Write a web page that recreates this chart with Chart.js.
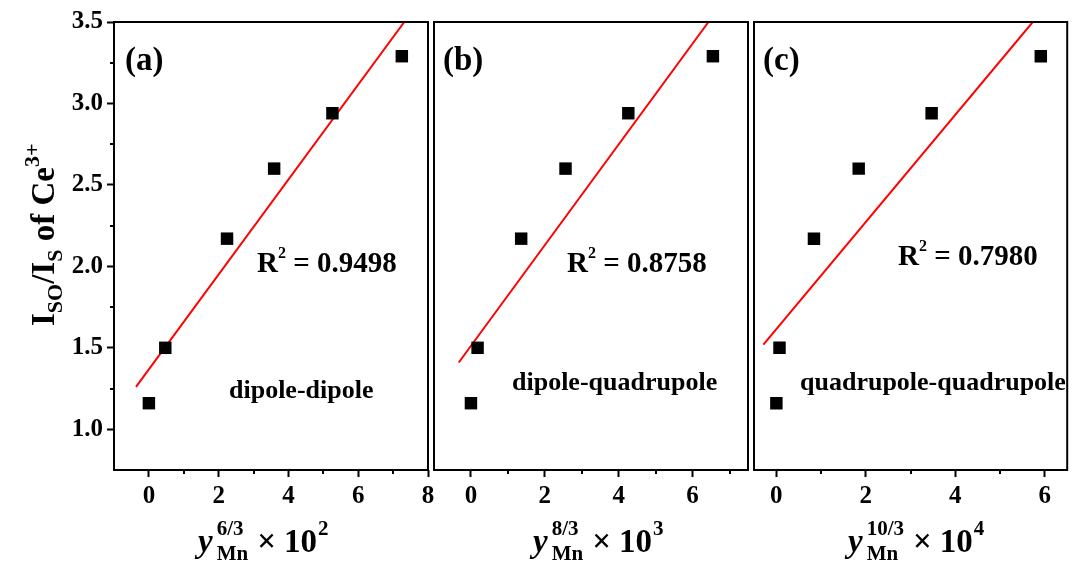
<!DOCTYPE html>
<html><head><meta charset="utf-8">
<script src="https://cdn.jsdelivr.net/npm/chart.js@4"></script>
<style>
html,body{margin:0;padding:0;background:#fff;}
#wrap{position:relative;width:1076px;height:565px;overflow:hidden;background:#fff;}
canvas{position:absolute;top:0;}
</style></head><body>
<div id="wrap">
<canvas id="ca" width="440" height="565" style="left:0px"></canvas>
<canvas id="cb" width="340" height="565" style="left:420px"></canvas>
<canvas id="cc" width="336" height="565" style="left:740px"></canvas>
</div>
<script>
// ---- data ----
const ratioY = [1.16, 1.50, 2.17, 2.60, 2.94, 3.29];          // I_SO/I_S of Ce3+
const xA = [0, 0.47, 2.24, 3.59, 5.26, 7.25];                 // y^(6/3) x 10^2
const xB = [0, 0.18, 1.36, 2.56, 4.26, 6.55];                 // y^(8/3) x 10^3
const xC = [0, 0.07, 0.84, 1.84, 3.47, 5.91];                 // y^(10/3) x 10^4
const fitXA = [-0.37, 7.32], fitYA = [1.26, 3.5];
const fitXB = [-0.33, 6.43], fitYB = [1.41, 3.5];
const fitXC = [-0.29, 5.73], fitYC = [1.52, 3.5];
const r2Labels = ['0.9498', '0.8758', '0.7980'];
const panelLabels = ['(a)', '(b)', '(c)'];
const mechanisms = ['dipole-dipole', 'dipole-quadrupole', 'quadrupole-quadrupole'];
const xPowers = ['6/3', '8/3', '10/3'];
const xExponents = ['2', '3', '4'];
const yTicks = [1.0, 1.5, 2.0, 2.5, 3.0, 3.5];
const yMinor = [1.25, 1.75, 2.25, 2.75, 3.25];
const xTicksA = [0, 2, 4, 6, 8], xMinorA = [1, 3, 5, 7];
const xTicksB = [0, 2, 4, 6],    xMinorB = [1, 3, 5, 7];
const xTicksC = [0, 2, 4, 6],    xMinorC = [1, 3, 5];
const xRangeA = [-1, 8], xRangeB = [-1, 7.5], xRangeC = [-0.5, 6.5];
const yRange = [0.75, 3.5];

// ---- drawing helpers ----
const SERIF = '"Liberation Serif", "Times New Roman", serif';
function fnt(size, italic) { return (italic ? 'italic ' : '') + 'bold ' + size + 'px ' + SERIF; }
function drawRich(ctx, x, y, segs) {
  let cx = x;
  for (const s of segs) {
    if (s.stack) {
      let w = 0;
      for (const p of s.stack) {
        ctx.font = fnt(p.size, p.italic);
        ctx.fillText(p.t, cx, y + (p.dy || 0));
        w = Math.max(w, ctx.measureText(p.t).width);
      }
      cx += w + (s.gap || 0);
    } else {
      ctx.font = fnt(s.size, s.italic);
      ctx.fillText(s.t, cx, y + (s.dy || 0));
      cx += ctx.measureText(s.t).width + (s.gap || 0);
    }
  }
}

const decor = {
  id: 'decor',
  afterDraw(chart, args, o) {
    const ctx = chart.ctx, ca = chart.chartArea;
    const xs = chart.scales.x, ys = chart.scales.y;
    const off = o.offset;
    ctx.save();
    ctx.strokeStyle = '#000';
    ctx.fillStyle = '#000';
    ctx.lineWidth = 2;
    ctx.strokeRect(ca.left, ca.top, ca.right - ca.left, ca.bottom - ca.top);
    // minor ticks
    ctx.beginPath();
    for (const v of o.xMinor) {
      const px = Math.round(xs.getPixelForValue(v));
      ctx.moveTo(px, ca.bottom); ctx.lineTo(px, ca.bottom + 4);
    }
    if (o.showY) {
      for (const v of yMinor) {
        const py = Math.round(ys.getPixelForValue(v));
        ctx.moveTo(ca.left, py); ctx.lineTo(ca.left - 4, py);
      }
    }
    ctx.stroke();
    ctx.textAlign = 'left';
    ctx.textBaseline = 'alphabetic';
    const i = o.idx;
    // panel letter
    ctx.font = fnt(33);
    ctx.fillText(panelLabels[i], o.labelPos[0] - off, o.labelPos[1]);
    // R^2
    drawRich(ctx, o.r2Pos[0] - off, o.r2Pos[1], [
      { t: 'R', size: 29 },
      { t: '2', size: 16, dy: -14 },
      { t: ' = ' + r2Labels[i], size: 29 }
    ]);
    // mechanism
    ctx.font = fnt(26);
    ctx.fillText(mechanisms[i], o.mechPos[0] - off, o.mechPos[1]);
    // x title
    drawRich(ctx, o.xTitleX - off, 552, [
      { t: 'y', size: 33, italic: true, gap: 4 },
      { stack: [{ t: 'Mn', size: 21, dy: 8 }, { t: xPowers[i], size: 21, dy: -17 }], gap: 9 },
      { t: '\u00d7', size: 33, gap: 8 },
      { t: '10', size: 33, gap: 1 },
      { t: xExponents[i], size: 21, dy: -17 }
    ]);
    // y title (panel a only)
    if (o.showY) {
      ctx.save();
      ctx.translate(54, 326);
      ctx.rotate(-Math.PI / 2);
      drawRich(ctx, 0, 0, [
        { t: 'I', size: 33 },
        { t: 'SO', size: 22, dy: 8 },
        { t: '/', size: 33 },
        { t: 'I', size: 33 },
        { t: 'S', size: 22, dy: 8 },
        { t: ' of ', size: 33 },
        { t: 'Ce', size: 33 },
        { t: '3+', size: 22, dy: -15 }
      ]);
      ctx.restore();
    }
    ctx.restore();
  }
};

function makePanel(id, o) {
  const tickFont = { family: SERIF, size: 25, weight: 'bold' };
  new Chart(document.getElementById(id), {
    type: 'scatter',
    data: {
      datasets: [
        {
          data: o.xs.map((x, k) => ({ x: x, y: ratioY[k] })),
          pointStyle: 'rect', pointRadius: 8.8, pointHoverRadius: 8.8,
          backgroundColor: '#000', borderColor: '#000', borderWidth: 0,
          showLine: false
        },
        {
          data: o.fitX.map((x, k) => ({ x: x, y: o.fitY[k] })),
          showLine: true, borderColor: '#ff0000', borderWidth: 2,
          pointRadius: 0, pointHoverRadius: 0, fill: false
        }
      ]
    },
    options: {
      responsive: false, animation: false, devicePixelRatio: 1, events: [],
      layout: { padding: o.padding },
      plugins: {
        legend: { display: false }, tooltip: { enabled: false },
        decor: o
      },
      scales: {
        x: {
          type: 'linear', min: o.xRange[0], max: o.xRange[1],
          afterBuildTicks: s => { s.ticks = o.xTicks.map(v => ({ value: v })); },
          afterFit: s => { s.height = 95; },
          border: { display: false },
          grid: { display: true, drawOnChartArea: false, drawTicks: true, tickLength: 7, tickWidth: 2, tickColor: '#000' },
          ticks: { color: '#000', font: tickFont, padding: 5, maxRotation: 0, autoSkip: false, callback: v => String(v) }
        },
        y: {
          type: 'linear', min: yRange[0], max: yRange[1], display: o.showY,
          afterBuildTicks: s => { s.ticks = yTicks.map(v => ({ value: v })); },
          afterFit: s => { s.width = o.showY ? 114 : 0; },
          border: { display: false },
          grid: { display: true, drawOnChartArea: false, drawTicks: true, tickLength: 7, tickWidth: 2, tickColor: '#000' },
          ticks: { color: '#000', font: tickFont, padding: 4, autoSkip: false, callback: v => Number(v).toFixed(1) }
        }
      }
    },
    plugins: [decor]
  });
}

makePanel('ca', { idx: 0, offset: 0, xs: xA, fitX: fitXA, fitY: fitYA, xRange: xRangeA, xTicks: xTicksA, xMinor: xMinorA,
  showY: true, padding: { top: 22, right: 12, left: 0, bottom: 0 },
  labelPos: [125, 70], r2Pos: [257, 272], mechPos: [229, 398], xTitleX: 198 });
makePanel('cb', { idx: 1, offset: 420, xs: xB, fitX: fitXB, fitY: fitYB, xRange: xRangeB, xTicks: xTicksB, xMinor: xMinorB,
  showY: false, padding: { top: 22, right: 12, left: 14, bottom: 0 },
  labelPos: [443, 70], r2Pos: [567, 272], mechPos: [512, 390], xTitleX: 533 });
makePanel('cc', { idx: 2, offset: 740, xs: xC, fitX: fitXC, fitY: fitYC, xRange: xRangeC, xTicks: xTicksC, xMinor: xMinorC,
  showY: false, padding: { top: 22, right: 1, left: 14, bottom: 0 },
  labelPos: [763, 70], r2Pos: [898, 265], mechPos: [800, 390], xTitleX: 848 });
</script>
</body></html>
